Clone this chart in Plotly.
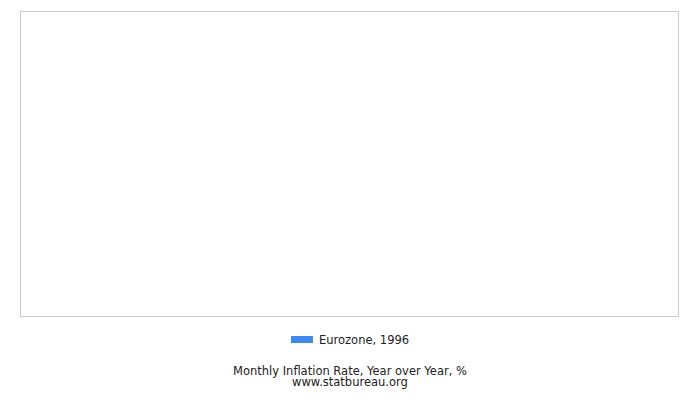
import plotly.graph_objects as go

months = ["Jan", "Feb", "Mar", "Apr", "May", "Jun", "Jul", "Aug", "Sep", "Oct", "Nov", "Dec"]
inflation_1996 = [None, None, None, None, None, None, None, None, None, None, None, None]
series_name = "Eurozone, 1996"
title_text = "Monthly Inflation Rate, Year over Year, %"
source_text = "www.statbureau.org"

W, H = 700, 400
L, R, T, B = 21, 22, 12, 84
pw, ph = W - L - R, H - T - B

def px(x):
    return (x - L) / pw

def py(y):
    return (H - B - y) / ph

fig = go.Figure()
fig.add_trace(go.Bar(x=months, y=inflation_1996, name=series_name,
                     marker_color="#4289ee", showlegend=False))

font = dict(family="DejaVu Sans, Verdana, sans-serif", size=11.5, color="#222222")

fig.update_layout(
    width=W, height=H,
    margin=dict(l=L, r=R, t=T, b=B),
    paper_bgcolor="white", plot_bgcolor="white",
    xaxis=dict(showticklabels=False, showgrid=False, zeroline=False, ticks="",
               showline=True, mirror=True, linecolor="#cccccc", linewidth=1),
    yaxis=dict(showticklabels=False, showgrid=False, zeroline=False, ticks="",
               showline=True, mirror=True, linecolor="#cccccc", linewidth=1,
               range=[0, 1]),
    font=font,
    shapes=[dict(type="rect", xref="paper", yref="paper",
                 x0=px(291), x1=px(313), y0=py(336), y1=py(343),
                 fillcolor="#4289ee", line=dict(width=0))],
    annotations=[
        dict(text=series_name, xref="paper", yref="paper", x=px(317), y=py(340),
             xanchor="left", yanchor="middle", showarrow=False),
        dict(text=title_text, xref="paper", yref="paper", x=px(350), y=py(371),
             xanchor="center", yanchor="middle", showarrow=False),
        dict(text=source_text, xref="paper", yref="paper", x=px(350), y=py(382),
             xanchor="center", yanchor="middle", showarrow=False),
    ],
)

fig.write_html("out.html", config={"displayModeBar": False},
               post_script="document.body.style.margin='0';")
